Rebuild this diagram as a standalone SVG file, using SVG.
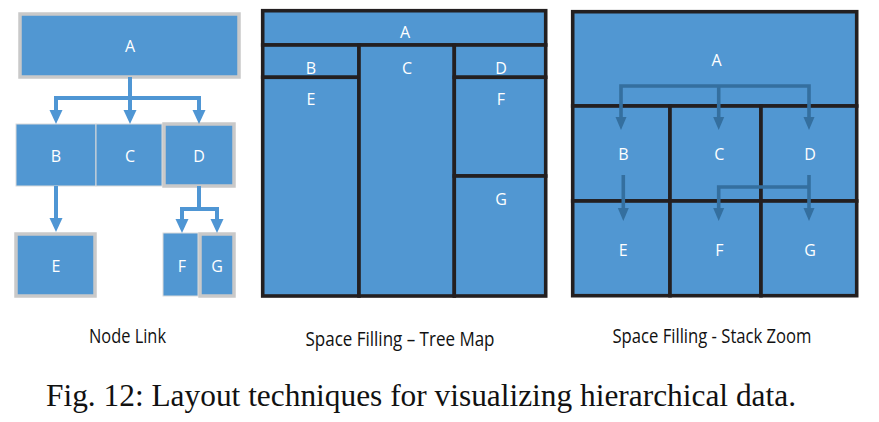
<svg xmlns="http://www.w3.org/2000/svg" width="879" height="422" viewBox="0 0 879 422">
<style>
.box{fill:#5197D2}
.gb{stroke:#C9C9C9;stroke-width:3.5}
.lb{stroke:#DADADA;stroke-width:1}
.tm{stroke:#231F20;stroke-width:3.6}
.lbl{font-family:"Open Sans","Liberation Sans",sans-serif;font-size:16px;fill:#FFFFFF;text-anchor:middle}
.cap{font-family:"Open Sans","Liberation Sans",sans-serif;font-size:20px;fill:#111111;text-anchor:middle}
.fig{font-family:"Liberation Serif","Times New Roman",serif;font-size:31px;fill:#111111}
.nl{fill:none;stroke:#4F96D4;stroke-width:4}
.sz{fill:none;stroke:#346F9F;stroke-width:3.6}
</style>
<defs>
<marker id="hn" markerUnits="userSpaceOnUse" markerWidth="16" markerHeight="16" viewBox="0 -8 16 16" refX="0" refY="0" orient="auto-start-reverse"><path d="M0,-6.5 L14,0 L0,6.5 Z" fill="#4F96D4"/></marker>
<marker id="hs" markerUnits="userSpaceOnUse" markerWidth="16" markerHeight="16" viewBox="0 -8 16 16" refX="0" refY="0" orient="auto-start-reverse"><path d="M0,-5.5 L13,0 L0,5.5 Z" fill="#346F9F"/></marker>
</defs>

<!-- Node Link -->
<g id="nl-A"><rect class="box gb" x="20" y="14" width="219" height="63"/><text class="lbl" x="130" y="52">A</text></g>
<g id="nl-B"><rect class="box lb" x="16" y="124" width="80" height="62"/><text class="lbl" x="56" y="162">B</text></g>
<g id="nl-C"><rect class="box lb" x="96" y="124" width="66" height="62"/><text class="lbl" x="130" y="162">C</text></g>
<g id="nl-D"><rect class="box gb" x="164" y="124" width="70" height="62"/><text class="lbl" x="199" y="162">D</text></g>
<g id="nl-E"><rect class="box gb" x="16" y="234" width="79" height="62"/><text class="lbl" x="56" y="272">E</text></g>
<g id="nl-F"><rect class="box lb" x="163" y="233" width="35" height="63"/><text class="lbl" x="182" y="272">F</text></g>
<g id="nl-G"><rect class="box gb" x="200" y="234" width="34" height="62"/><text class="lbl" x="217" y="272">G</text></g>

<!-- Tree Map -->
<g id="tm-A"><rect class="box tm" x="262.7" y="10.7" width="283" height="34.3"/><text class="lbl" x="405" y="38">A</text></g>
<g id="tm-B"><rect class="box tm" x="262.7" y="45" width="96.3" height="32.3"/><text class="lbl" x="311" y="74">B</text></g>
<g id="tm-E"><rect class="box tm" x="262.7" y="77.3" width="96.3" height="218.7"/><text class="lbl" x="311" y="105">E</text></g>
<g id="tm-C"><rect class="box tm" x="359" y="45" width="95.3" height="251"/><text class="lbl" x="407" y="74">C</text></g>
<g id="tm-D"><rect class="box tm" x="454.3" y="45" width="91.4" height="32.3"/><text class="lbl" x="501" y="74">D</text></g>
<g id="tm-F"><rect class="box tm" x="454.3" y="77.3" width="91.4" height="98.7"/><text class="lbl" x="501" y="105">F</text></g>
<g id="tm-G"><rect class="box tm" x="454.3" y="176" width="91.4" height="120"/><text class="lbl" x="501" y="205">G</text></g>

<!-- Stack Zoom -->
<g id="sz-A"><rect class="box tm" x="572.7" y="11.7" width="284" height="94.3"/><text class="lbl" x="716.5" y="66">A</text></g>
<g id="sz-B"><rect class="box tm" x="572.7" y="106" width="97.3" height="95"/><text class="lbl" x="623.3" y="160">B</text></g>
<g id="sz-C"><rect class="box tm" x="670" y="106" width="91" height="95"/><text class="lbl" x="719.3" y="160">C</text></g>
<g id="sz-D"><rect class="box tm" x="761" y="106" width="95.7" height="95"/><text class="lbl" x="810" y="160">D</text></g>
<g id="sz-E"><rect class="box tm" x="572.7" y="201" width="97.3" height="94.7"/><text class="lbl" x="623.3" y="256">E</text></g>
<g id="sz-F"><rect class="box tm" x="670" y="201" width="91" height="94.7"/><text class="lbl" x="719.3" y="256">F</text></g>
<g id="sz-G"><rect class="box tm" x="761" y="201" width="95.7" height="94.7"/><text class="lbl" x="810" y="256">G</text></g>

<g id="connectors">
<path class="nl" d="M130 77 V110" marker-end="url(#hn)"/>
<path class="nl" d="M56 110 V98 H199 V110" marker-start="url(#hn)" marker-end="url(#hn)"/>
<path class="nl" d="M56 186 V218" marker-end="url(#hn)"/>
<path class="nl" d="M199 186 V209"/>
<path class="nl" d="M182 219 V209 H217 V219" marker-start="url(#hn)" marker-end="url(#hn)"/>
<path class="sz" d="M621 117 V86 H809 V117" marker-start="url(#hs)" marker-end="url(#hs)"/>
<path class="sz" d="M718.7 86 V117" marker-end="url(#hs)"/>
<path class="sz" d="M623.3 175 V208" marker-end="url(#hs)"/>
<path class="sz" d="M809 175 V208" marker-end="url(#hs)"/>
<path class="sz" d="M718.7 208 V187 H809"  marker-start="url(#hs)"/>
</g>

<text class="cap" x="127.5" y="343" textLength="77" lengthAdjust="spacingAndGlyphs">Node Link</text>
<text class="cap" x="400" y="346" textLength="189" lengthAdjust="spacingAndGlyphs">Space Filling – Tree Map</text>
<text class="cap" x="712" y="343" textLength="199" lengthAdjust="spacingAndGlyphs">Space Filling - Stack Zoom</text>
<text class="fig" x="46" y="406" textLength="750" lengthAdjust="spacingAndGlyphs">Fig. 12: Layout techniques for visualizing hierarchical data.</text>
</svg>
